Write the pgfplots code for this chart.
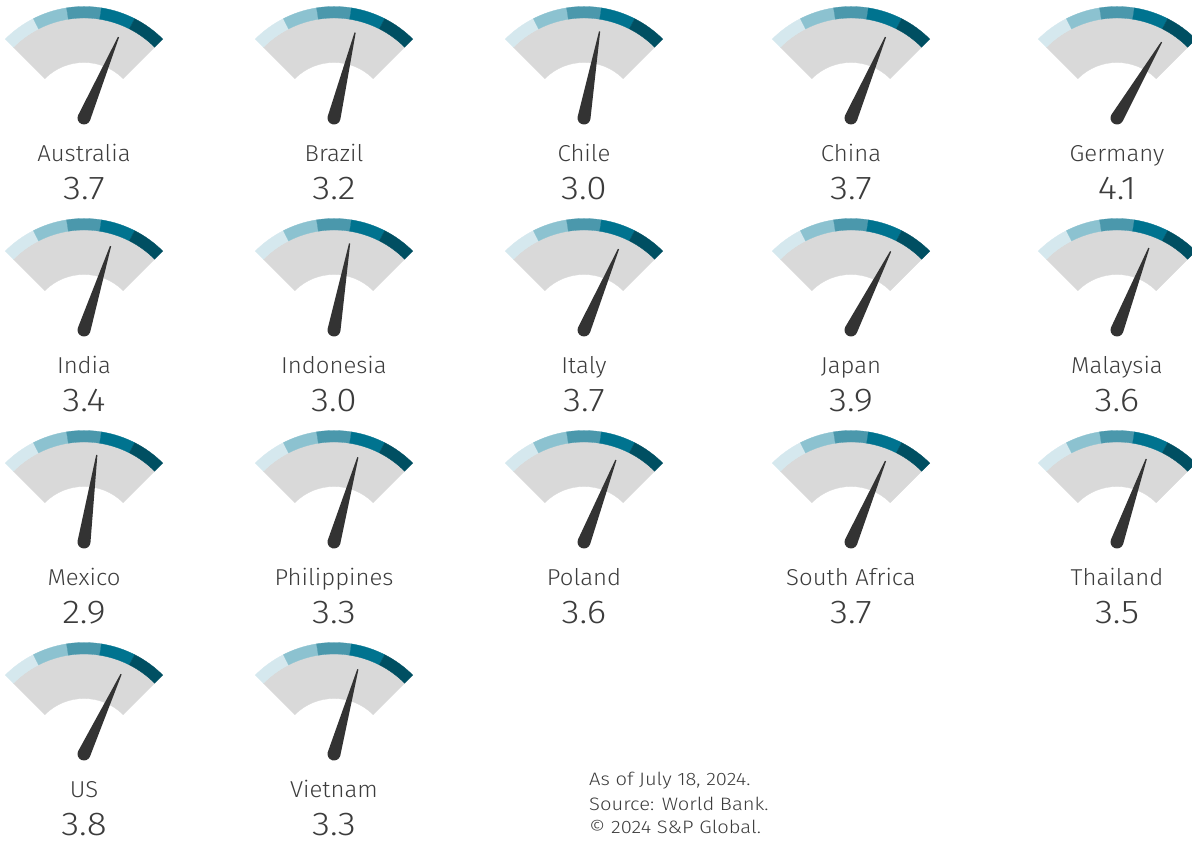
\documentclass[border=0pt]{standalone}
\usepackage{fontspec}
\setmainfont{Fira Sans Light}[FakeStretch=1.12]
\newfontfamily\namefont{Fira Sans Light}[FakeStretch=1.04]
\usepackage{pgfplots}
\usepackage{pgfplotstable}
\pgfplotsset{compat=1.18}

\definecolor{seg1}{HTML}{D5E8EE}
\definecolor{seg2}{HTML}{8CC2D0}
\definecolor{seg3}{HTML}{4B98AC}
\definecolor{seg4}{HTML}{00738F}
\definecolor{seg5}{HTML}{004F62}
\definecolor{gaugegray}{HTML}{D9D9D9}
\definecolor{needlec}{HTML}{333333}
\definecolor{txt}{HTML}{3C3C3C}

% one ring sector: start angle, end angle, inner r, outer r, colour
\newcommand\ringseg[5]{%
  \pgfsetfillcolor{#5}\pgfsetstrokecolor{#5}\pgfsetlinewidth{0.3pt}%
  \pgfpathmoveto{\pgfpointpolar{#1}{#4pt}}%
  \pgfpatharc{#1}{#2}{#4pt}%
  \pgfpathlineto{\pgfpointpolar{#2}{#3pt}}%
  \pgfpatharc{#2}{#1}{#3pt}%
  \pgfpathclose
  \pgfusepath{fill,stroke}}

\pgfdeclareplotmark{gaugebg}{%
  \ringseg{135}{45}{55.5}{100}{gaugegray}%
  \ringseg{135}{117}{100}{111.5}{seg1}%
  \ringseg{117}{99}{100}{111.5}{seg2}%
  \ringseg{99}{81}{100}{111.5}{seg3}%
  \ringseg{81}{63}{100}{111.5}{seg4}%
  \ringseg{63}{45}{100}{111.5}{seg5}}

% needle along +x, rotated per point
\pgfdeclareplotmark{needle}{%
  \pgfsetfillcolor{needlec}%
  \pgfpathmoveto{\pgfpoint{0pt}{-6.5pt}}%
  \pgfpathlineto{\pgfpoint{88pt}{-0.6pt}}%
  \pgfpathlineto{\pgfpoint{88pt}{0.6pt}}%
  \pgfpathlineto{\pgfpoint{0pt}{6.5pt}}%
  \pgfpatharc{90}{270}{6.5pt}%
  \pgfpathclose
  \pgfusepath{fill}}

% gauge pivots in pixel units (y measured up from the bottom)
\pgfplotstableread[col sep=comma]{
x,y,v,name
84,725,3.7,Australia
334,725,3.2,Brazil
584,725,3.0,Chile
851,725,3.7,China
1117,725,4.1,Germany
84,513,3.4,India
334,513,3.0,Indonesia
584,513,3.7,Italy
851,513,3.9,Japan
1117,513,3.6,Malaysia
84,301,2.9,Mexico
334,301,3.3,Philippines
584,301,3.6,Poland
851,301,3.7,South Africa
1117,301,3.5,Thailand
84,89,3.8,US
334,89,3.3,Vietnam
}\gauges

\begin{document}
\begin{tikzpicture}
\useasboundingbox (0,0) rectangle (1192pt,843pt);
\begin{axis}[
  at={(0,0)}, anchor=south west,
  scale only axis, width=1192pt, height=843pt,
  xmin=0, xmax=1192, ymin=0, ymax=843,
  hide axis, clip=false,
]
% gauge faces
\addplot[only marks, mark=gaugebg] table[x=x, y=y] {\gauges};
% needles
\addplot[only marks, mark=needle, scatter,
  visualization depends on={\thisrow{v} \as \val},
  scatter/@pre marker code/.code={%
    \pgfmathsetmacro\ang{135-18.4*\val}\scope[rotate=\ang]},
  scatter/@post marker code/.code={\endscope},
] table[x=x, y=y] {\gauges};
% country names
\addplot[draw=none, mark=none, nodes near coords,
  point meta=explicit symbolic,
  every node near coord/.style={anchor=base, yshift=-43.5pt,
    font=\namefont\fontsize{23}{26}\selectfont, text=txt, inner sep=0pt},
] table[x=x, y=y, meta=name] {\gauges};
% values
\addplot[draw=none, mark=none, nodes near coords,
  point meta=explicit symbolic,
  every node near coord/.style={anchor=base, yshift=-82pt,
    font=\fontsize{33}{36}\selectfont, text=txt, inner sep=0pt},
] table[x=x, y=y, meta=v] {\gauges};
% footnote
\node[anchor=base west, inner sep=0pt, text=txt, font=\fontsize{18}{20}\selectfont]
  at (axis cs:589,57.3) {As of July 18, 2024.};
\node[anchor=base west, inner sep=0pt, text=txt, font=\fontsize{18}{20}\selectfont]
  at (axis cs:589,32.3) {Source: World Bank.};
\node[anchor=base west, inner sep=0pt, text=txt, font=\fontsize{18}{20}\selectfont]
  at (axis cs:589,9.7) {© 2024 S\&P Global.};
\end{axis}
\end{tikzpicture}
\end{document}
